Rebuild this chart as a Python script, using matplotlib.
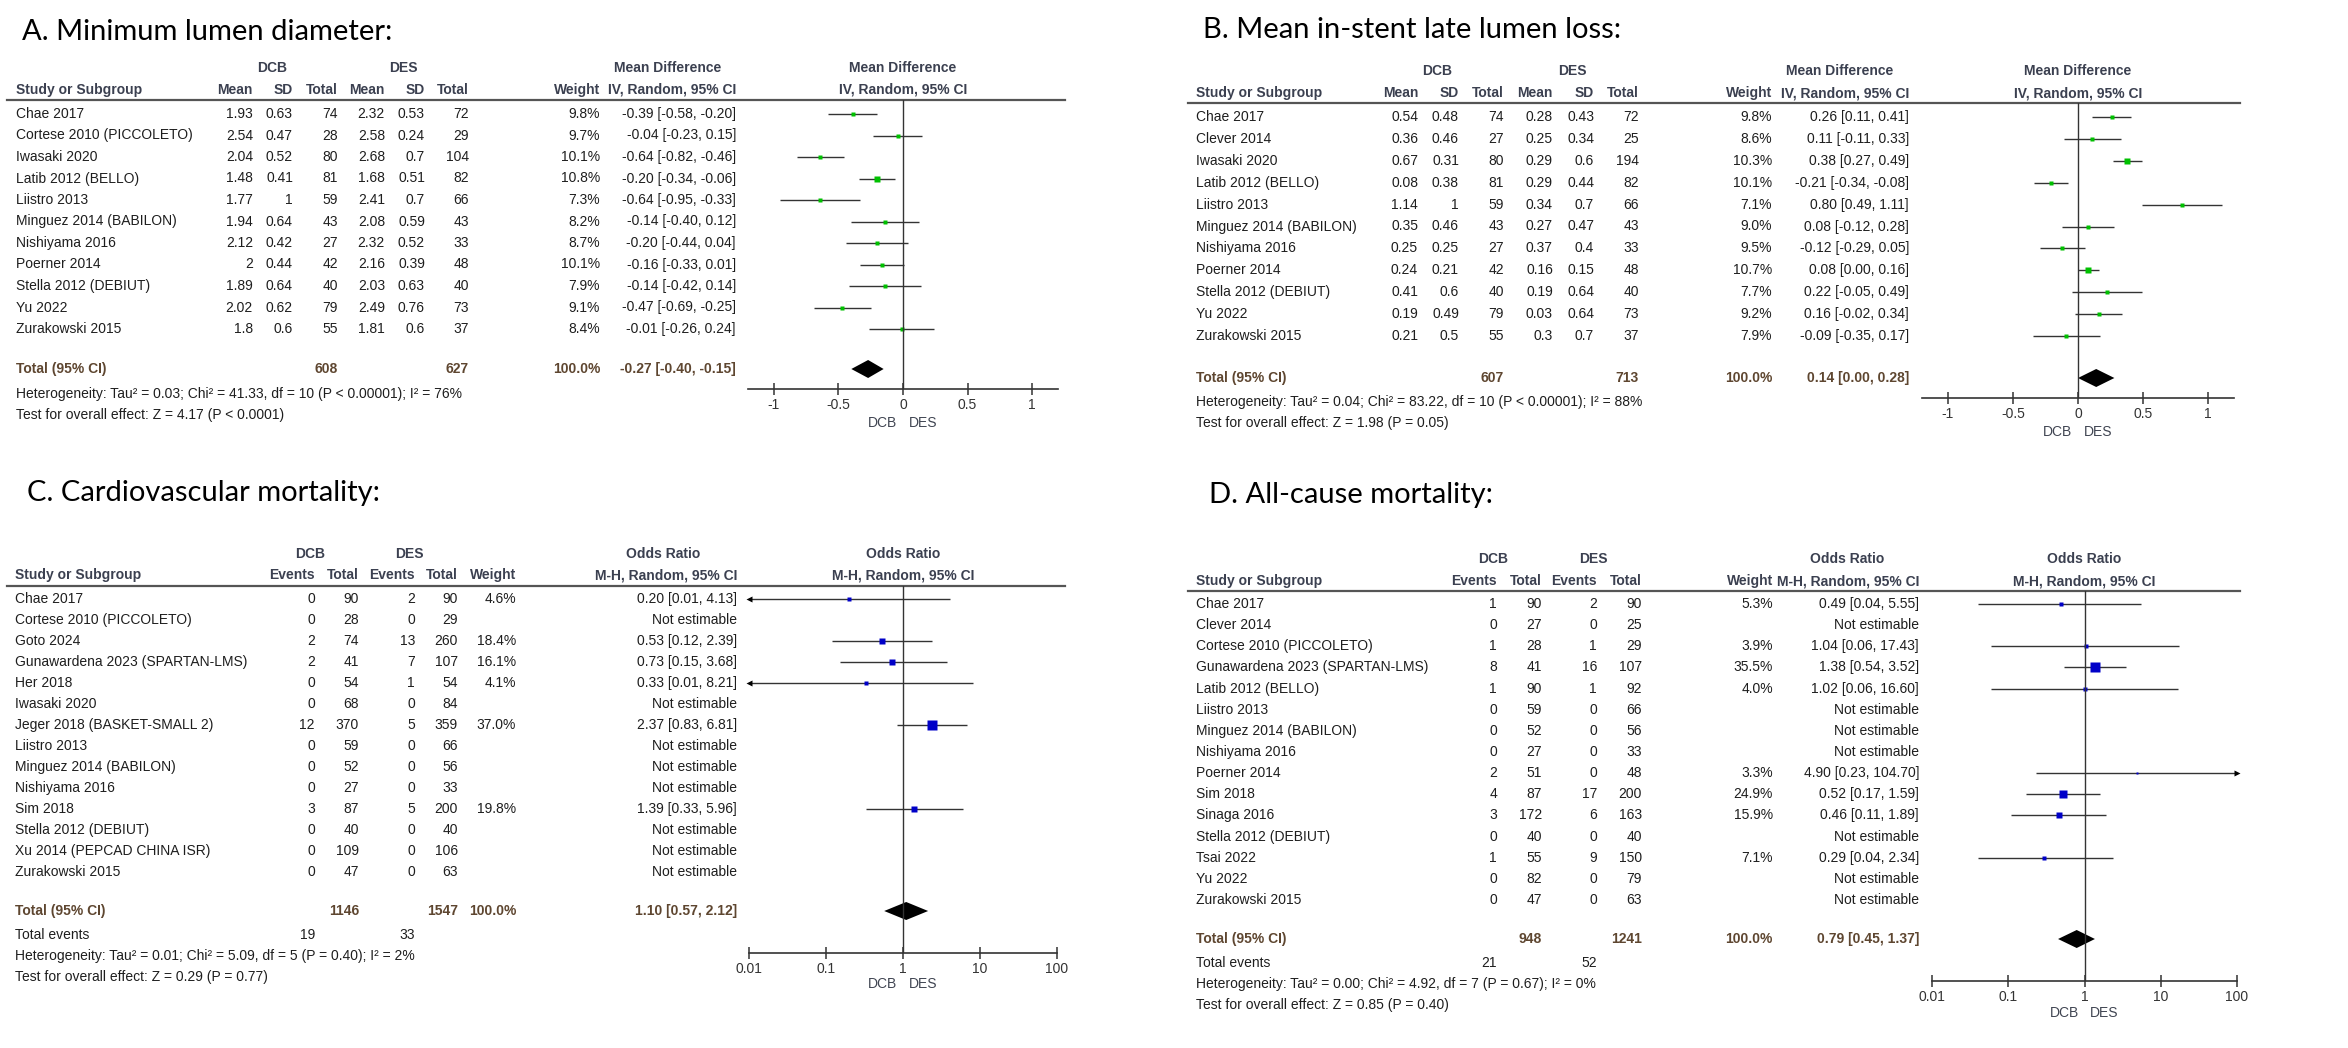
import numpy as np
import matplotlib.pyplot as plt
from matplotlib.ticker import NullLocator
from matplotlib.transforms import blended_transform_factory

nan = np.nan

# ---------------- A. Minimum lumen diameter ----------------
A_studies = ["Chae 2017", "Cortese 2010 (PICCOLETO)", "Iwasaki 2020", "Latib 2012 (BELLO)",
             "Liistro 2013", "Minguez 2014 (BABILON)", "Nishiyama 2016", "Poerner 2014",
             "Stella 2012 (DEBIUT)", "Yu 2022", "Zurakowski 2015"]
A_dcb_mean = [1.93, 2.54, 2.04, 1.48, 1.77, 1.94, 2.12, 2, 1.89, 2.02, 1.8]
A_dcb_sd = [0.63, 0.47, 0.52, 0.41, 1, 0.64, 0.42, 0.44, 0.64, 0.62, 0.6]
A_dcb_n = [74, 28, 80, 81, 59, 43, 27, 42, 40, 79, 55]
A_des_mean = [2.32, 2.58, 2.68, 1.68, 2.41, 2.08, 2.32, 2.16, 2.03, 2.49, 1.81]
A_des_sd = [0.53, 0.24, 0.7, 0.51, 0.7, 0.59, 0.52, 0.39, 0.63, 0.76, 0.6]
A_des_n = [72, 29, 104, 82, 66, 43, 33, 48, 40, 73, 37]
A_weight = [9.8, 9.7, 10.1, 10.8, 7.3, 8.2, 8.7, 10.1, 7.9, 9.1, 8.4]
A_md = [-0.39, -0.04, -0.64, -0.20, -0.64, -0.14, -0.20, -0.16, -0.14, -0.47, -0.01]
A_lo = [-0.58, -0.23, -0.82, -0.34, -0.95, -0.40, -0.44, -0.33, -0.42, -0.69, -0.26]
A_hi = [-0.20, 0.15, -0.46, -0.06, -0.33, 0.12, 0.04, 0.01, 0.14, -0.25, 0.24]
A_totals = [608, 627]
A_pooled = [-0.27, -0.40, -0.15]
A_het = "Heterogeneity: Tau² = 0.03; Chi² = 41.33, df = 10 (P < 0.00001); I² = 76%"
A_test = "Test for overall effect: Z = 4.17 (P < 0.0001)"

# ---------------- B. Mean in-stent late lumen loss ----------------
B_studies = ["Chae 2017", "Clever 2014", "Iwasaki 2020", "Latib 2012 (BELLO)", "Liistro 2013",
             "Minguez 2014 (BABILON)", "Nishiyama 2016", "Poerner 2014", "Stella 2012 (DEBIUT)",
             "Yu 2022", "Zurakowski 2015"]
B_dcb_mean = [0.54, 0.36, 0.67, 0.08, 1.14, 0.35, 0.25, 0.24, 0.41, 0.19, 0.21]
B_dcb_sd = [0.48, 0.46, 0.31, 0.38, 1, 0.46, 0.25, 0.21, 0.6, 0.49, 0.5]
B_dcb_n = [74, 27, 80, 81, 59, 43, 27, 42, 40, 79, 55]
B_des_mean = [0.28, 0.25, 0.29, 0.29, 0.34, 0.27, 0.37, 0.16, 0.19, 0.03, 0.3]
B_des_sd = [0.43, 0.34, 0.6, 0.44, 0.7, 0.47, 0.4, 0.15, 0.64, 0.64, 0.7]
B_des_n = [72, 25, 194, 82, 66, 43, 33, 48, 40, 73, 37]
B_weight = [9.8, 8.6, 10.3, 10.1, 7.1, 9.0, 9.5, 10.7, 7.7, 9.2, 7.9]
B_md = [0.26, 0.11, 0.38, -0.21, 0.80, 0.08, -0.12, 0.08, 0.22, 0.16, -0.09]
B_lo = [0.11, -0.11, 0.27, -0.34, 0.49, -0.12, -0.29, 0.00, -0.05, -0.02, -0.35]
B_hi = [0.41, 0.33, 0.49, -0.08, 1.11, 0.28, 0.05, 0.16, 0.49, 0.34, 0.17]
B_totals = [607, 713]
B_pooled = [0.14, 0.00, 0.28]
B_het = "Heterogeneity: Tau² = 0.04; Chi² = 83.22, df = 10 (P < 0.00001); I² = 88%"
B_test = "Test for overall effect: Z = 1.98 (P = 0.05)"

# ---------------- C. Cardiovascular mortality ----------------
C_studies = ["Chae 2017", "Cortese 2010 (PICCOLETO)", "Goto 2024", "Gunawardena 2023 (SPARTAN-LMS)",
             "Her 2018", "Iwasaki 2020", "Jeger 2018 (BASKET-SMALL 2)", "Liistro 2013",
             "Minguez 2014 (BABILON)", "Nishiyama 2016", "Sim 2018", "Stella 2012 (DEBIUT)",
             "Xu 2014 (PEPCAD CHINA ISR)", "Zurakowski 2015"]
C_dcb_ev = [0, 0, 2, 2, 0, 0, 12, 0, 0, 0, 3, 0, 0, 0]
C_dcb_n = [90, 28, 74, 41, 54, 68, 370, 59, 52, 27, 87, 40, 109, 47]
C_des_ev = [2, 0, 13, 7, 1, 0, 5, 0, 0, 0, 5, 0, 0, 0]
C_des_n = [90, 29, 260, 107, 54, 84, 359, 66, 56, 33, 200, 40, 106, 63]
C_weight = [4.6, nan, 18.4, 16.1, 4.1, nan, 37.0, nan, nan, nan, 19.8, nan, nan, nan]
C_or = [0.20, nan, 0.53, 0.73, 0.33, nan, 2.37, nan, nan, nan, 1.39, nan, nan, nan]
C_lo = [0.01, nan, 0.12, 0.15, 0.01, nan, 0.83, nan, nan, nan, 0.33, nan, nan, nan]
C_hi = [4.13, nan, 2.39, 3.68, 8.21, nan, 6.81, nan, nan, nan, 5.96, nan, nan, nan]
C_totals = [1146, 1547]
C_events = [19, 33]
C_pooled = [1.10, 0.57, 2.12]
C_het = "Heterogeneity: Tau² = 0.01; Chi² = 5.09, df = 5 (P = 0.40); I² = 2%"
C_test = "Test for overall effect: Z = 0.29 (P = 0.77)"

# ---------------- D. All-cause mortality ----------------
D_studies = ["Chae 2017", "Clever 2014", "Cortese 2010 (PICCOLETO)", "Gunawardena 2023 (SPARTAN-LMS)",
             "Latib 2012 (BELLO)", "Liistro 2013", "Minguez 2014 (BABILON)", "Nishiyama 2016",
             "Poerner 2014", "Sim 2018", "Sinaga 2016", "Stella 2012 (DEBIUT)", "Tsai 2022",
             "Yu 2022", "Zurakowski 2015"]
D_dcb_ev = [1, 0, 1, 8, 1, 0, 0, 0, 2, 4, 3, 0, 1, 0, 0]
D_dcb_n = [90, 27, 28, 41, 90, 59, 52, 27, 51, 87, 172, 40, 55, 82, 47]
D_des_ev = [2, 0, 1, 16, 1, 0, 0, 0, 0, 17, 6, 0, 9, 0, 0]
D_des_n = [90, 25, 29, 107, 92, 66, 56, 33, 48, 200, 163, 40, 150, 79, 63]
D_weight = [5.3, nan, 3.9, 35.5, 4.0, nan, nan, nan, 3.3, 24.9, 15.9, nan, 7.1, nan, nan]
D_or = [0.49, nan, 1.04, 1.38, 1.02, nan, nan, nan, 4.90, 0.52, 0.46, nan, 0.29, nan, nan]
D_lo = [0.04, nan, 0.06, 0.54, 0.06, nan, nan, nan, 0.23, 0.17, 0.11, nan, 0.04, nan, nan]
D_hi = [5.55, nan, 17.43, 3.52, 16.60, nan, nan, nan, 104.70, 1.59, 1.89, nan, 2.34, nan, nan]
D_totals = [948, 1241]
D_events = [21, 52]
D_pooled = [0.79, 0.45, 1.37]
D_het = "Heterogeneity: Tau² = 0.00; Chi² = 4.92, df = 7 (P = 0.67); I² = 0%"
D_test = "Test for overall effect: Z = 0.85 (P = 0.40)"

MD_ticks = [-1, -0.5, 0, 0.5, 1]
MD_ticklabels = ["-1", "-0.5", "0", "0.5", "1"]
OR_ticks = [0.01, 0.1, 1, 10, 100]
OR_ticklabels = ["0.01", "0.1", "1", "10", "100"]

# ---------------- drawing ----------------
W, H = 2348, 1048
fig = plt.figure(figsize=(W / 100, H / 100), dpi=100)
bg = fig.add_axes([0, 0, 1, 1])
bg.set_xlim(0, W)
bg.set_ylim(H, 0)
bg.axis('off')

FONT = 'Liberation Sans'
BODY = '#1e1e1e'
HEAD = '#3b4050'
TOT = '#5e4630'
LINE = '#333333'


def txt(x, y, s, ha='left', bold=False, color=BODY, size=10):
    bg.text(x, y, s, ha=ha, va='center', fontsize=size, family=FONT,
            fontweight='bold' if bold else 'normal', color=color)


def fmt(v):
    return f"{v:g}"


def draw_panel(L, title, col_heads, col_vals, studies, weight, est, lo, hi, totals, pooled,
               het, test, lab1, lab2, color, log=False, events=None):
    bg.text(L['title'][0], L['title'][1], title, fontsize=21, family='Lato',
            ha='left', va='center', color='black')

    # table header
    txt(L['dcb_x'], L['grp_y'], 'DCB', ha='center', bold=True, color=HEAD)
    txt(L['des_x'], L['grp_y'], 'DES', ha='center', bold=True, color=HEAD)
    txt(L['eff_hx'], L['grp_y'], lab1, ha='center', bold=True, color=HEAD)
    txt(L['study_x'], L['hdr_y'], 'Study or Subgroup', bold=True, color=HEAD)
    for x, h in zip(L['cols'], col_heads + ['Weight']):
        txt(x, L['hdr_y'], h, ha='right', bold=True, color=HEAD)
    txt(L['eff_x'], L['hdr_y'], lab2, ha='right', bold=True, color=HEAD)
    bg.plot(L['line_x'], [L['line_y'], L['line_y']], color='#555555', lw=1.6)

    # forest axes
    x0, x1 = L['fx']
    ax = fig.add_axes([x0 / W, 1 - L['axis_y'] / H, (x1 - x0) / W, (L['axis_y'] - L['line_y']) / H])
    ax.set_facecolor('none')
    if log:
        ax.set_xscale('log')
    a, b = L['xlim']
    ax.set_xlim(a, b)
    ax.set_ylim(L['axis_y'], L['line_y'])
    null = 1 if log else 0
    fc = (x0 + x1) / 2
    txt(fc, L['grp_y'], lab1, ha='center', bold=True, color=HEAD)
    txt(fc, L['hdr_y'], lab2, ha='center', bold=True, color=HEAD)

    ys = L['y0'] + L['step'] * np.arange(len(studies))
    for i, s in enumerate(studies):
        y = ys[i]
        txt(L['study_x'], y, s)
        for x, vals in zip(L['cols'][:-1], col_vals):
            txt(x, y, vals[i], ha='right')
        if np.isnan(est[i]):
            txt(L['eff_x'], y, 'Not estimable', ha='right')
            continue
        txt(L['cols'][-1], y, f"{weight[i]:.1f}%", ha='right')
        txt(L['eff_x'], y, f"{est[i]:.2f} [{lo[i]:.2f}, {hi[i]:.2f}]", ha='right')
        ax.plot([max(lo[i], a), min(hi[i], b)], [y, y], color=LINE, lw=1.0, solid_capstyle='butt')
        ax.plot(est[i], y, 's', ms=1.56 * np.sqrt(weight[i]) / 1.389, color=color, mec='none')
        if lo[i] <= a:
            ax.plot(a, y, '<', ms=5, color='black', mec='none', clip_on=False)
        if hi[i] >= b:
            ax.plot(b, y, '>', ms=5, color='black', mec='none', clip_on=False)

    # totals
    ty = L['total_y']
    txt(L['study_x'], ty, 'Total (95% CI)', bold=True, color=TOT)
    tot_x = [x for x, h in zip(L['cols'], col_heads) if h == 'Total']
    for x, t in zip(tot_x, totals):
        txt(x, ty, str(t), ha='right', bold=True, color=TOT)
    txt(L['cols'][-1], ty, '100.0%', ha='right', bold=True, color=TOT)
    p, pl, ph = pooled
    txt(L['eff_x'], ty, f"{p:.2f} [{pl:.2f}, {ph:.2f}]", ha='right', bold=True, color=TOT)
    ax.fill([pl, p, ph, p], [ty, ty - 9, ty, ty + 9], color='black', lw=0)

    if events is not None:
        txt(L['study_x'], L['events_y'], 'Total events')
        ev_x = [x for x, h in zip(L['cols'], col_heads) if h == 'Events']
        for x, e in zip(ev_x, events):
            txt(x, L['events_y'], str(e), ha='right')
    txt(L['study_x'], L['het_y'], het)
    txt(L['study_x'], L['test_y'], test)

    # axis styling
    ax.axvline(null, color=LINE, lw=1.0)
    ax.set_xticks(L['ticks'])
    ax.set_xticklabels(L['ticklabels'], family=FONT)
    ax.xaxis.set_minor_locator(NullLocator())
    ax.set_yticks([])
    ax.tick_params(axis='x', direction='inout', length=9, width=1.1, color=LINE,
                   labelsize=10, labelcolor='#333333', pad=2)
    for sp in ['top', 'left', 'right']:
        ax.spines[sp].set_visible(False)
    ax.spines['bottom'].set_color(LINE)
    ax.spines['bottom'].set_linewidth(1.2)
    tr = blended_transform_factory(ax.transData, bg.transData)
    ax.annotate('DCB', xy=(null, L['lab_y']), xycoords=tr, xytext=(-4, 0), textcoords='offset points',
                ha='right', va='center', fontsize=10, family=FONT, color='#404552')
    ax.annotate('DES', xy=(null, L['lab_y']), xycoords=tr, xytext=(4, 0), textcoords='offset points',
                ha='left', va='center', fontsize=10, family=FONT, color='#404552')


MD_heads = ['Mean', 'SD', 'Total', 'Mean', 'SD', 'Total']
OR_heads = ['Events', 'Total', 'Events', 'Total']

LA = dict(title=(22, 32), grp_y=68, hdr_y=90, line_y=100, line_x=(7, 1065), study_x=16,
          cols=[253, 293, 338, 385, 425, 469, 600], dcb_x=272, des_x=403, eff_x=736, eff_hx=668,
          y0=114, step=21.5, total_y=369, het_y=394, test_y=415,
          fx=(748, 1058), xlim=(-1.2, 1.2), axis_y=389, lab_y=423,
          ticks=MD_ticks, ticklabels=MD_ticklabels)
LB = dict(title=(1203, 30), grp_y=71, hdr_y=93, line_y=103, line_x=(1188, 2240), study_x=1196,
          cols=[1418, 1459, 1504, 1553, 1594, 1639, 1772], dcb_x=1437, des_x=1572, eff_x=1909, eff_hx=1840,
          y0=117, step=21.9, total_y=378, het_y=402, test_y=423,
          fx=(1922, 2234), xlim=(-1.2, 1.2), axis_y=398, lab_y=432,
          ticks=MD_ticks, ticklabels=MD_ticklabels)
LC = dict(title=(27, 493), grp_y=554, hdr_y=575, line_y=586, line_x=(7, 1065), study_x=15,
          cols=[315, 359, 415, 458, 516], dcb_x=310, des_x=409, eff_x=737, eff_hx=663,
          y0=599, step=21.0, total_y=911, events_y=935, het_y=956, test_y=977,
          fx=(749, 1057), xlim=(0.01, 100), axis_y=953, lab_y=984,
          ticks=OR_ticks, ticklabels=OR_ticklabels)
LD = dict(title=(1209, 495), grp_y=559, hdr_y=581, line_y=591, line_x=(1188, 2240), study_x=1196,
          cols=[1497, 1542, 1597, 1642, 1773], dcb_x=1493, des_x=1593, eff_x=1919, eff_hx=1847,
          y0=604, step=21.14, total_y=939, events_y=963, het_y=984, test_y=1005,
          fx=(1932, 2237), xlim=(0.01, 100), axis_y=981, lab_y=1013,
          ticks=OR_ticks, ticklabels=OR_ticklabels)

GREEN = '#00c000'
BLUE = '#0000c8'

draw_panel(LA, "A. Minimum lumen diameter:", MD_heads,
           [[fmt(v) for v in A_dcb_mean], [fmt(v) for v in A_dcb_sd], [str(v) for v in A_dcb_n],
            [fmt(v) for v in A_des_mean], [fmt(v) for v in A_des_sd], [str(v) for v in A_des_n]],
           A_studies, A_weight, A_md, A_lo, A_hi, A_totals, A_pooled, A_het, A_test,
           'Mean Difference', 'IV, Random, 95% CI', GREEN)
draw_panel(LB, "B. Mean in-stent late lumen loss:", MD_heads,
           [[fmt(v) for v in B_dcb_mean], [fmt(v) for v in B_dcb_sd], [str(v) for v in B_dcb_n],
            [fmt(v) for v in B_des_mean], [fmt(v) for v in B_des_sd], [str(v) for v in B_des_n]],
           B_studies, B_weight, B_md, B_lo, B_hi, B_totals, B_pooled, B_het, B_test,
           'Mean Difference', 'IV, Random, 95% CI', GREEN)
draw_panel(LC, "C. Cardiovascular mortality:", OR_heads,
           [[str(v) for v in C_dcb_ev], [str(v) for v in C_dcb_n],
            [str(v) for v in C_des_ev], [str(v) for v in C_des_n]],
           C_studies, C_weight, C_or, C_lo, C_hi, C_totals, C_pooled, C_het, C_test,
           'Odds Ratio', 'M-H, Random, 95% CI', BLUE, log=True, events=C_events)
draw_panel(LD, "D. All-cause mortality:", OR_heads,
           [[str(v) for v in D_dcb_ev], [str(v) for v in D_dcb_n],
            [str(v) for v in D_des_ev], [str(v) for v in D_des_n]],
           D_studies, D_weight, D_or, D_lo, D_hi, D_totals, D_pooled, D_het, D_test,
           'Odds Ratio', 'M-H, Random, 95% CI', BLUE, log=True, events=D_events)

fig.savefig('out.png', dpi=100, facecolor='white')
